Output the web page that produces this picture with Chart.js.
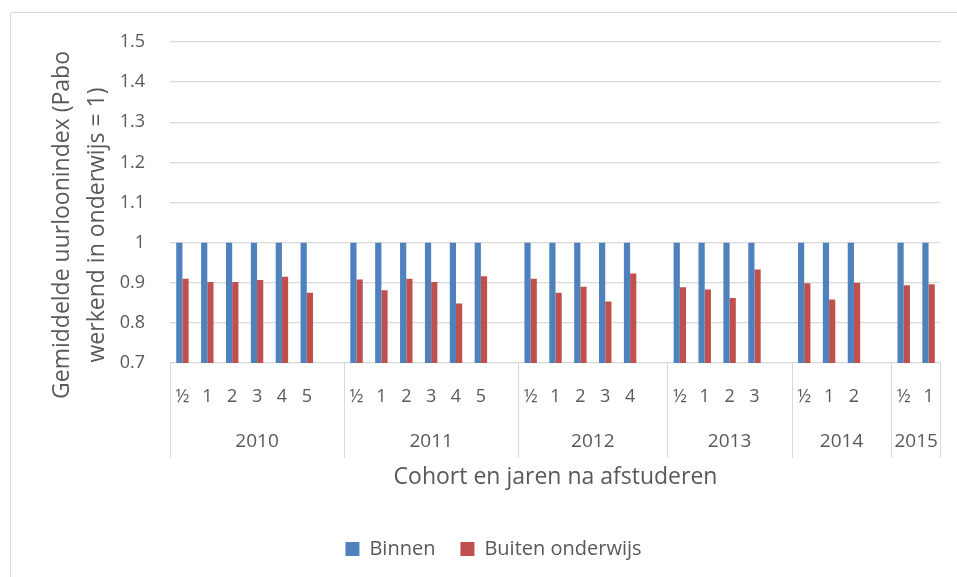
<!DOCTYPE html>
<html>
<head>
<meta charset="utf-8">
<script src="https://cdn.jsdelivr.net/npm/chart.js@4"></script>
<style>
  body { margin: 0; background: #fff; }
  #wrap { width: 957px; height: 577px; }
</style>
</head>
<body>
<div id="wrap"><canvas id="mycanvas" width="957" height="577"></canvas></div>
<script>
// cohort (jaar van afstuderen) en jaren na afstuderen
var cohorts = ['2010', '2011', '2012', '2013', '2014', '2015'];
var jaren = [
	['½', '1', '2', '3', '4', '5'],
	['½', '1', '2', '3', '4', '5'],
	['½', '1', '2', '3', '4'],
	['½', '1', '2', '3'],
	['½', '1', '2'],
	['½', '1']
];
var binnen = [
	[1, 1, 1, 1, 1, 1],
	[1, 1, 1, 1, 1, 1],
	[1, 1, 1, 1, 1],
	[1, 1, 1, 1],
	[1, 1, 1],
	[1, 1]
];
var buiten = [
	[0.910, 0.902, 0.902, 0.907, 0.915, 0.875],
	[0.908, 0.881, 0.910, 0.902, 0.848, 0.916],
	[0.910, 0.875, 0.890, 0.853, 0.923],
	[0.889, 0.883, 0.862, 0.933],
	[0.899, 0.858, 0.900],
	[0.894, 0.896]
];
var yTitle = ['Gemiddelde uurloonindex (Pabo', 'werkend in onderwijs = 1)'];
var xTitle = 'Cohort en jaren na afstuderen';

// flat lists, with an empty category between cohorts (like the excel sheet)
var labels = [], binnenData = [], buitenData = [], groups = [];
for (var i in cohorts) {
	var start = labels.length;
	for (var j in jaren[i]) {
		labels.push(jaren[i][j]);
		binnenData.push(binnen[i][j]);
		buitenData.push(buiten[i][j]);
	}
	if (i < cohorts.length - 1) {
		labels.push('');
		binnenData.push(null);
		buitenData.push(null);
	}
	groups.push({ start: start, end: labels.length - 1 });
}

var textColor = '#595959';
var lineColor = '#d9d9d9';
var fontFamily = '"Open Sans", Lato, sans-serif';

var cohortAxis = {
	id: 'cohortAxis',
	beforeDraw: function(chart) {
		var ctx = chart.ctx;
		// legend sits a bit right of the middle in the original
		chart.legend.left += 36;
		ctx.save();
		ctx.strokeStyle = lineColor;
		ctx.lineWidth = 1;
		ctx.beginPath();
		ctx.moveTo(10.5, 600);
		ctx.lineTo(10.5, 12.5);
		ctx.lineTo(1000, 12.5);
		ctx.stroke();
		ctx.restore();
	},
	afterDraw: function(chart) {
		var ctx = chart.ctx;
		var x = chart.scales.x;
		var area = chart.chartArea;
		var w = x.width / labels.length;
		ctx.save();
		ctx.strokeStyle = lineColor;
		ctx.lineWidth = 1;
		ctx.fillStyle = textColor;
		ctx.font = '19px ' + fontFamily;
		ctx.textAlign = 'center';
		ctx.textBaseline = 'middle';
		for (var i in groups) {
			var x0 = x.getPixelForValue(groups[i].start) - w / 2;
			var x1 = x.getPixelForValue(groups[i].end) + w / 2;
			ctx.beginPath();
			ctx.moveTo(Math.round(x0) + 0.5, area.bottom);
			ctx.lineTo(Math.round(x0) + 0.5, area.bottom + 95);
			if (i == groups.length - 1) {
				ctx.moveTo(Math.round(x1) - 0.5, area.bottom);
				ctx.lineTo(Math.round(x1) - 0.5, area.bottom + 95);
			}
			ctx.stroke();
			ctx.fillText(cohorts[i], (x0 + x1) / 2, area.bottom + 79);
		}
		// y axis title, two lines
		ctx.font = '23px ' + fontFamily;
		ctx.translate(62, 225);
		ctx.rotate(-Math.PI / 2);
		ctx.fillText(yTitle[0], 0, 0);
		ctx.fillText(yTitle[1], 0, 35);
		ctx.restore();
	}
};

var chartdata = {
	labels: labels,
	datasets: [
		{
			label: 'Binnen',
			backgroundColor: '#4f81bd',
			data: binnenData
		},
		{
			label: 'Buiten onderwijs',
			backgroundColor: '#c0504d',
			data: buitenData
		}
	]
};

var ctx = document.getElementById('mycanvas');

var BarGraph = new Chart(ctx, {
	type: 'bar',
	data: chartdata,
	plugins: [cohortAxis],
	options: {
		responsive: false,
		animation: false,
		devicePixelRatio: 1,
		categoryPercentage: 0.5,
		barPercentage: 1.0,
		layout: { padding: { left: 10, top: 42, right: 16, bottom: 8 } },
		plugins: {
			tooltip: { enabled: false },
			legend: {
				position: 'bottom',
				labels: {
					color: textColor,
					font: { family: fontFamily, size: 20 },
					boxWidth: 14,
					boxHeight: 14,
					padding: 25
				}
			}
		},
		scales: {
			x: {
				grid: { display: false, drawTicks: false },
				border: { display: false },
				ticks: {
					color: textColor,
					font: { family: fontFamily, size: 18 },
					autoSkip: false,
					maxRotation: 0,
					padding: 23
				},
				title: {
					display: true,
					text: xTitle,
					color: textColor,
					font: { family: fontFamily, size: 23 },
					padding: { top: 0, bottom: 23 }
				},
				afterFit: function(scale) { scale.height = 151; }
			},
			y: {
				min: 0.7,
				max: 1.5,
				grid: { color: lineColor, lineWidth: 1.3, drawTicks: false },
				border: { display: false },
				ticks: {
					stepSize: 0.1,
					color: textColor,
					font: { family: fontFamily, size: 18 },
					padding: 25,
					callback: function(v) { return String(+v.toFixed(1)); }
				},
				afterFit: function(scale) { scale.width = 160; }
			}
		}
	}
});
</script>
</body>
</html>
